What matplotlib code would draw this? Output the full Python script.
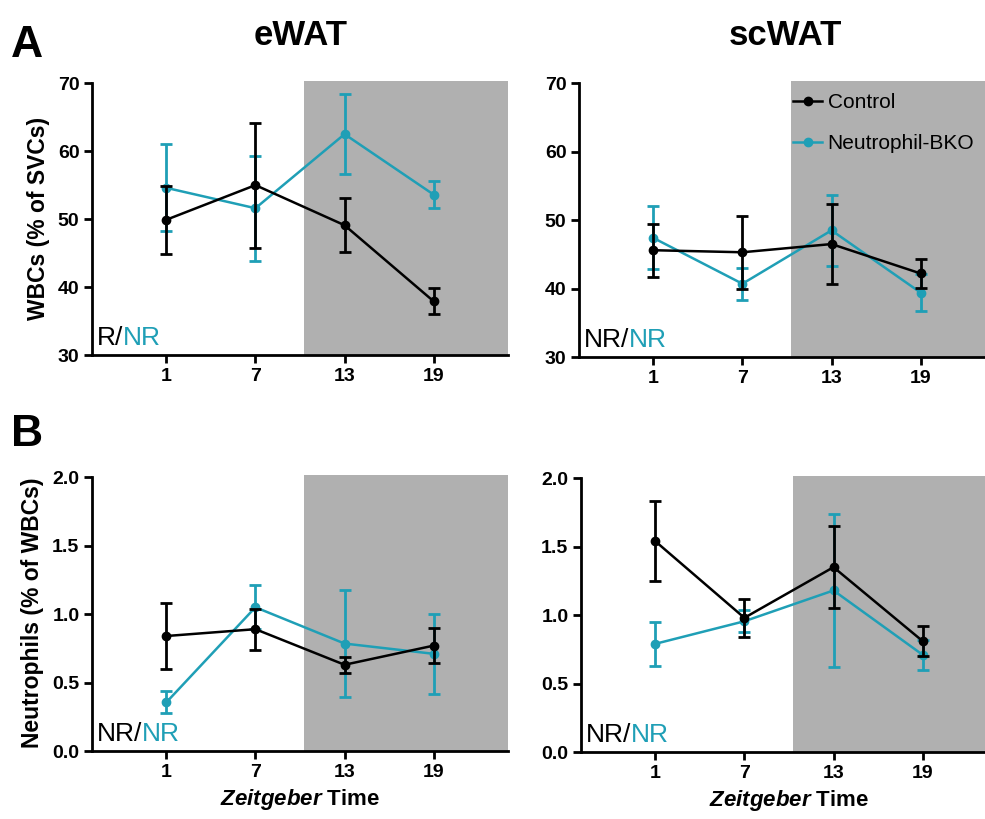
import matplotlib
matplotlib.use('Agg')
import matplotlib.pyplot as plt
from matplotlib.ticker import FormatStrFormatter

plt.rcParams['font.family'] = ['Liberation Sans', 'DejaVu Sans']
plt.rcParams['mathtext.fontset'] = 'custom'
plt.rcParams['mathtext.rm'] = 'Liberation Sans'
plt.rcParams['mathtext.bf'] = 'Liberation Sans:bold'
plt.rcParams['mathtext.bfit'] = 'Liberation Sans:italic:bold'

TEAL = '#1f9fb6'
SHADE = '#b0b0b0'

zt = [1, 7, 13, 19]

# A - WBCs (% of SVCs)
ewat_ctrl = [49.9, 55.0, 49.1, 37.9]
ewat_ctrl_err = [5.0, 9.2, 4.0, 1.9]
ewat_bko = [54.6, 51.6, 62.5, 53.6]
ewat_bko_err = [6.4, 7.7, 5.9, 2.0]

scwat_ctrl = [45.6, 45.3, 46.5, 42.2]
scwat_ctrl_err = [3.9, 5.3, 5.8, 2.1]
scwat_bko = [47.4, 40.7, 48.5, 39.4]
scwat_bko_err = [4.6, 2.3, 5.2, 2.7]

# B - Neutrophils (% of WBCs)
ewat_neu_ctrl = [0.84, 0.89, 0.63, 0.77]
ewat_neu_ctrl_err = [0.24, 0.15, 0.06, 0.13]
ewat_neu_bko = [0.355, 1.05, 0.785, 0.71]
ewat_neu_bko_err = [0.08, 0.16, 0.39, 0.29]

scwat_neu_ctrl = [1.54, 0.98, 1.35, 0.81]
scwat_neu_ctrl_err = [0.29, 0.14, 0.30, 0.11]
scwat_neu_bko = [0.79, 0.955, 1.18, 0.71]
scwat_neu_bko_err = [0.16, 0.08, 0.56, 0.11]

annot = ['R/NR', 'NR/NR', 'NR/NR', 'NR/NR']


def draw_panel(ax, ctrl, ctrl_err, bko, bko_err, ylim, yticks, tag, ylabel=None):
    ax.axvspan(10.3, 24, ymin=0, ymax=1, color=SHADE, lw=0, zorder=0)
    ax.errorbar(zt, bko, yerr=bko_err, color=TEAL, marker='o', ms=6, lw=1.8,
                elinewidth=2, capsize=4, capthick=2, label='Neutrophil-BKO', zorder=3)
    ax.errorbar(zt, ctrl, yerr=ctrl_err, color='black', marker='o', ms=6, lw=1.8,
                elinewidth=2, capsize=4, capthick=2, label='Control', zorder=4)
    ax.set_xlim(-4, 24)
    ax.set_ylim(ylim[0], ylim[1] + (ylim[1] - ylim[0]) * 0.008)
    ax.set_xticks(zt)
    ax.set_yticks(yticks)
    ax.spines['top'].set_visible(False)
    ax.spines['right'].set_visible(False)
    ax.spines['left'].set_bounds(ylim[0], ylim[1])
    for s in ('left', 'bottom'):
        ax.spines[s].set_linewidth(2)
        ax.spines[s].set_zorder(5)
    ax.tick_params(width=2, length=6, labelsize=14, pad=3)
    for lbl in ax.get_xticklabels() + ax.get_yticklabels():
        lbl.set_fontweight('bold')
    if ylabel:
        ax.set_ylabel(ylabel, fontsize=16.5, fontweight='bold', labelpad=6)
    left, right = tag.split('/')
    t1 = ax.text(0.012, 0.035, left + '/', transform=ax.transAxes, fontsize=19,
                 color='black', va='baseline', ha='left')
    ax.annotate(right, xycoords=t1, xy=(1, 0), va='bottom', ha='left',
                fontsize=19, color=TEAL)


fig = plt.figure(figsize=(9.85, 8.19), dpi=100)
w = 0.4223
ax1 = fig.add_axes([0.0934, 0.5665, w, 0.3346])
ax2 = fig.add_axes([0.5878, 0.5641, w, 0.337])
ax3 = fig.add_axes([0.0934, 0.083, w, 0.337])
ax4 = fig.add_axes([0.5898, 0.0818, w, 0.337])

draw_panel(ax1, ewat_ctrl, ewat_ctrl_err, ewat_bko, ewat_bko_err,
           (30, 70), [30, 40, 50, 60, 70], annot[0], 'WBCs (% of SVCs)')
draw_panel(ax2, scwat_ctrl, scwat_ctrl_err, scwat_bko, scwat_bko_err,
           (30, 70), [30, 40, 50, 60, 70], annot[1])
draw_panel(ax3, ewat_neu_ctrl, ewat_neu_ctrl_err, ewat_neu_bko, ewat_neu_bko_err,
           (0, 2), [0.0, 0.5, 1.0, 1.5, 2.0], annot[2], 'Neutrophils (% of WBCs)')
draw_panel(ax4, scwat_neu_ctrl, scwat_neu_ctrl_err, scwat_neu_bko, scwat_neu_bko_err,
           (0, 2), [0.0, 0.5, 1.0, 1.5, 2.0], annot[3])
for ax in (ax3, ax4):
    ax.yaxis.set_major_formatter(FormatStrFormatter('%.1f'))

# legend on scWAT panel
h, l = ax2.get_legend_handles_labels()
h = [hh[0] for hh in h]
ax2.legend(h[::-1], l[::-1], loc='upper left', bbox_to_anchor=(0.485, 1.0),
           frameon=False, fontsize=15, handlelength=1.4, handletextpad=0.25,
           labelspacing=1.05, borderaxespad=0.2)

fig.text(0.305, 0.957, 'eWAT', fontsize=25, fontweight='bold', ha='center', va='center')
fig.text(0.797, 0.957, 'scWAT', fontsize=25, fontweight='bold', ha='center', va='center')
fig.text(0.011, 0.944, 'A', fontsize=32, fontweight='bold', ha='left', va='center')
fig.text(0.011, 0.47, 'B', fontsize=32, fontweight='bold', ha='left', va='center')

for ax in (ax3, ax4):
    ax.set_xlabel(r'$\mathbfit{Zeitgeber}$ Time', fontsize=16, fontweight='bold', labelpad=5)

plt.savefig('out.png', dpi=100)
